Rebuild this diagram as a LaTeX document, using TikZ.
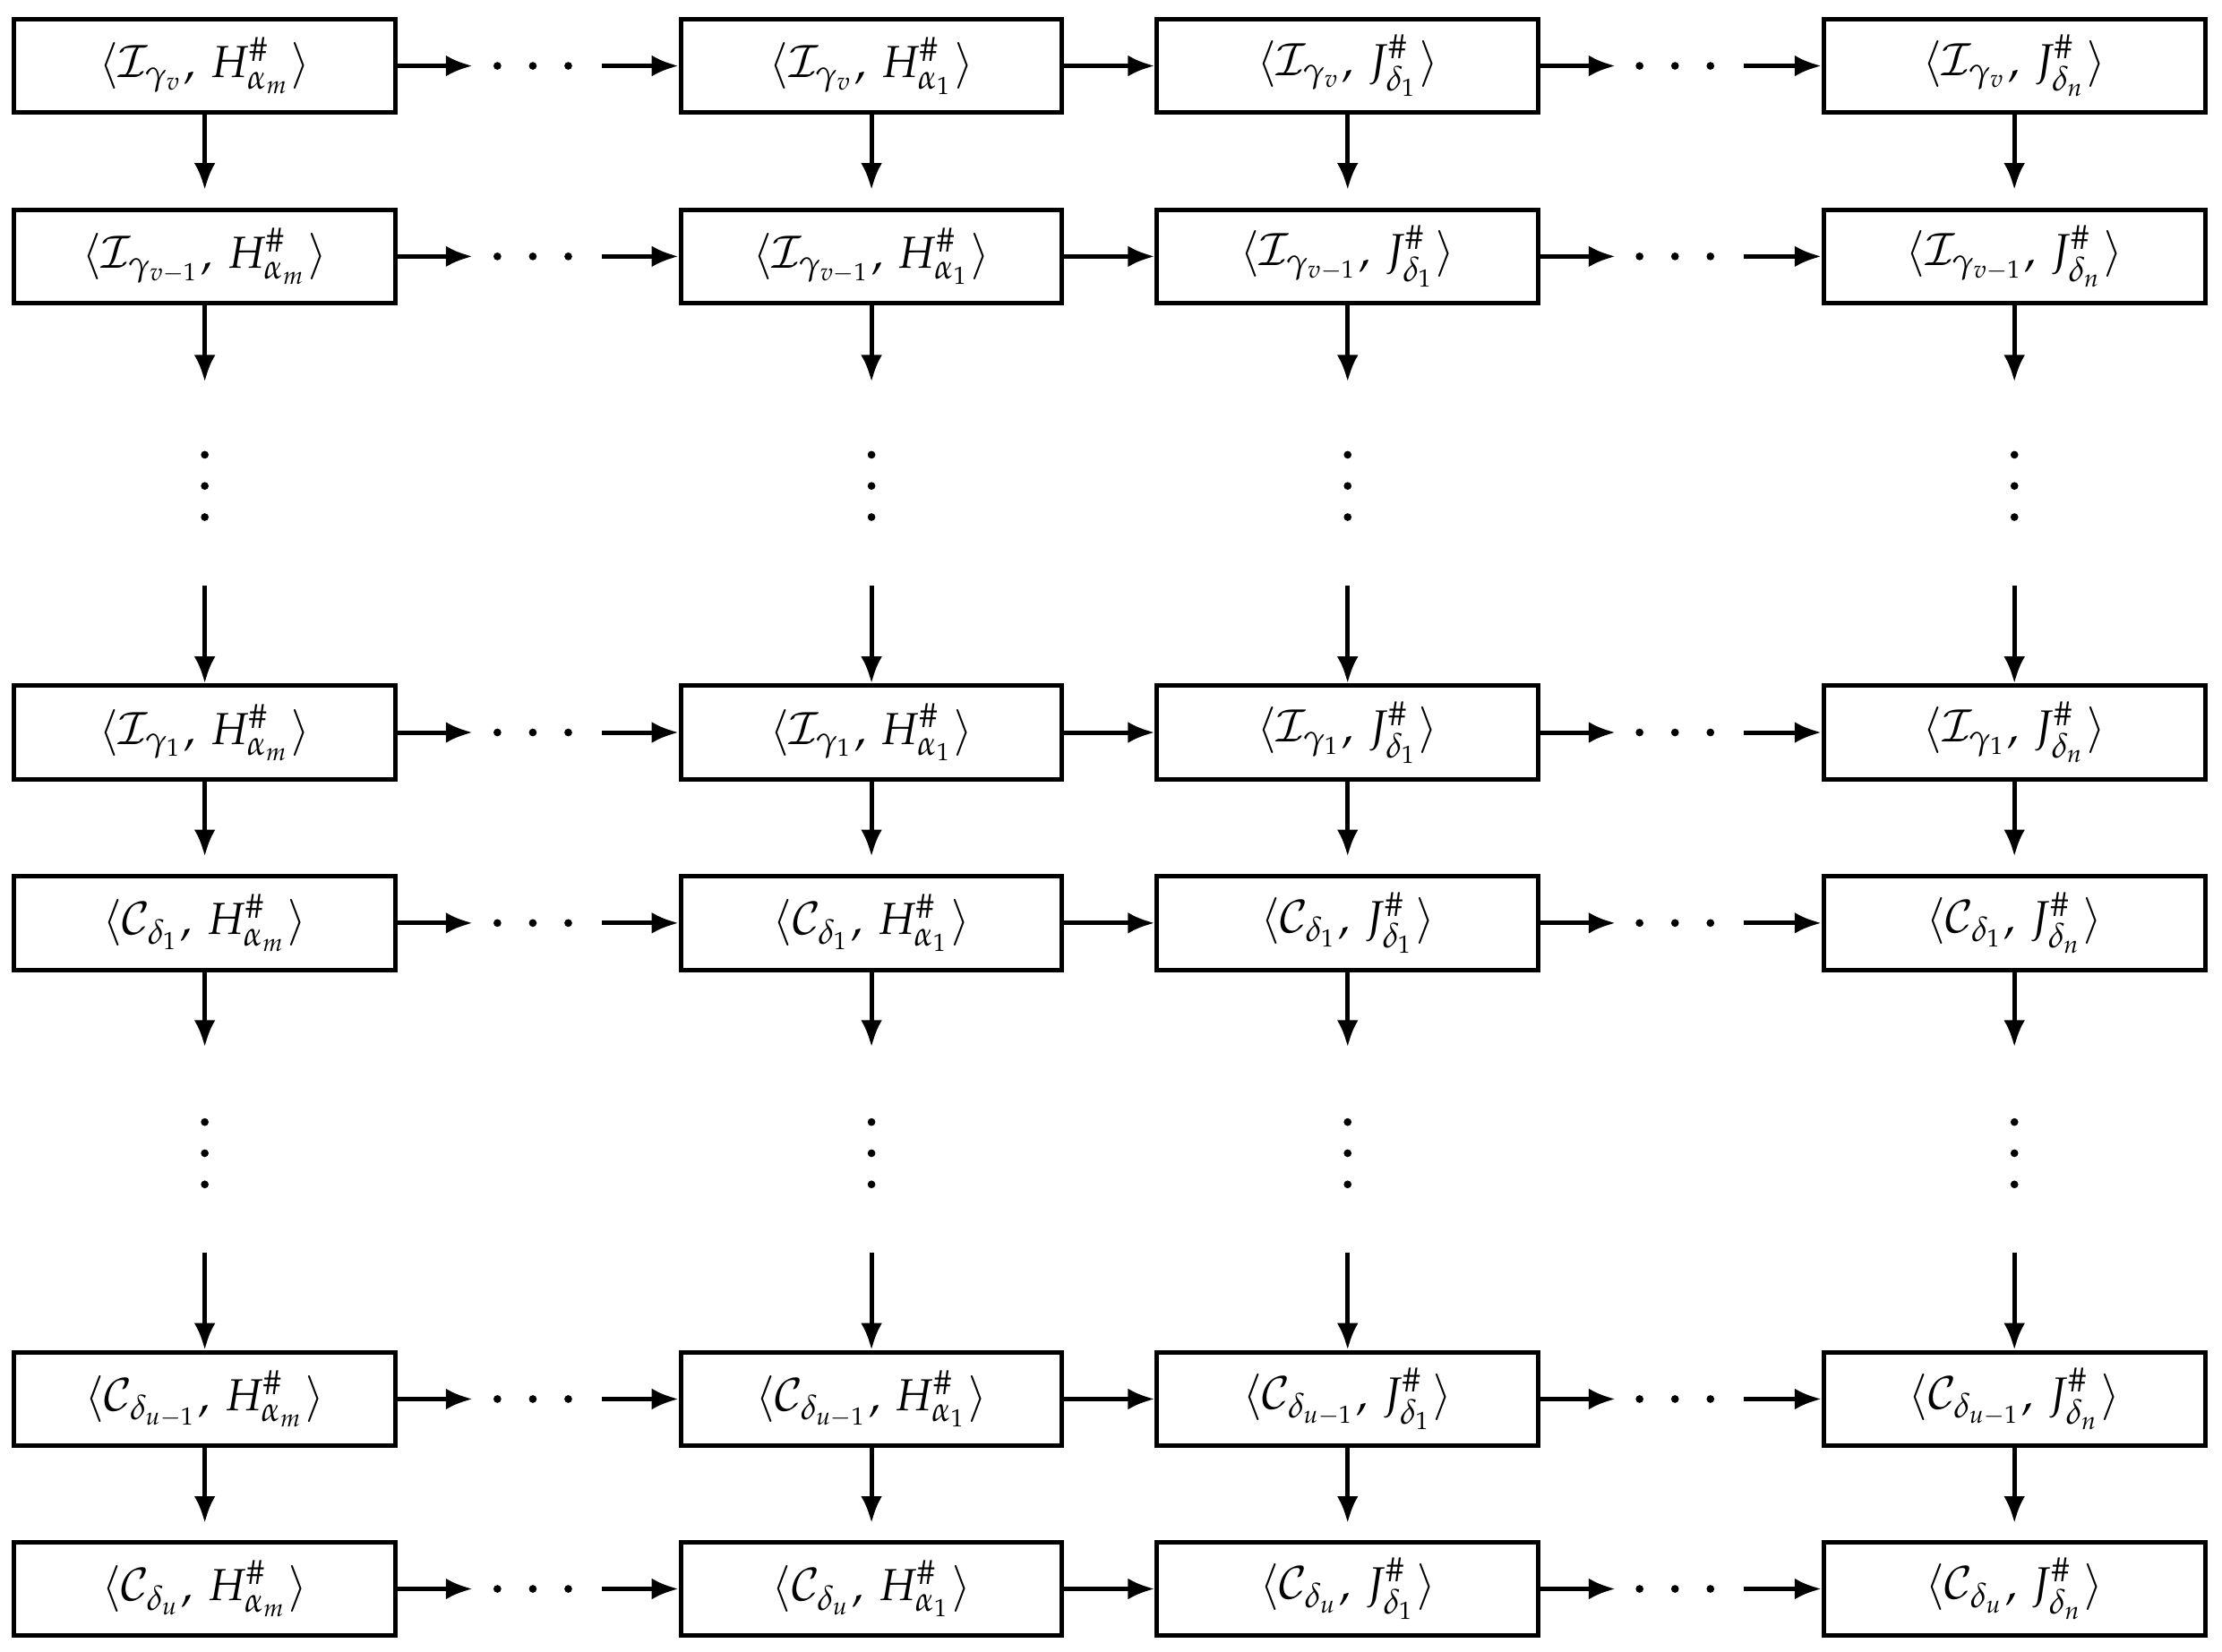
\documentclass[tikz,border=0pt]{standalone}
\usepackage{mathpazo}
\usetikzlibrary{arrows.meta}
\begin{document}
\begin{tikzpicture}[x=0.1mm,y=-0.1mm,
  box/.style={draw,line width=0.9pt,minimum width=26.9mm,minimum height=6.6mm,inner sep=0pt,font=\small},
  arr/.style={line width=0.9pt,-{Latex[length=1.9mm,width=1.5mm]}},
  dot/.style={circle,fill,inner sep=0pt,minimum size=0.55mm}]
\useasboundingbox (0,0) rectangle (1568,1166);
\def\colx{{144.5,615,951,1421.5}}
\def\rowy{{46.5,181,517,651.5,987.5,1121.5}}
\foreach \r/\rl in {0/{\mathcal{I}_{\gamma_v}},1/{\mathcal{I}_{\gamma_{v-1}}},2/{\mathcal{I}_{\gamma_1}},3/{\mathcal{C}_{\delta_1}},4/{\mathcal{C}_{\delta_{u-1}}},5/{\mathcal{C}_{\delta_u}}}
 \foreach \c/\cl in {0/{H^{\#}_{\alpha_m}},1/{H^{\#}_{\alpha_1}},2/{J^{\#}_{\delta_1}},3/{J^{\#}_{\delta_n}}}
  \node[box] (b\r\c) at ({\colx[\c]},{\rowy[\r]}) {$\langle\rl,\,\cl\rangle$};
% horizontal
\foreach \r in {0,...,5}{
  \path (b\r0.east) ++(53,0) coordinate (h\r a);
  \path (b\r1.west) ++(-54,0) coordinate (h\r b);
  \path (b\r2.east) ++(53,0) coordinate (h\r c);
  \path (b\r3.west) ++(-55,0) coordinate (h\r d);
  \draw[arr] (b\r0.east) -- (h\r a);
  \draw[arr] (h\r b) -- (b\r1.west);
  \draw[arr] (b\r1.east) -- (b\r2.west);
  \draw[arr] (b\r2.east) -- (h\r c);
  \draw[arr] (h\r d) -- (b\r3.west);
  \foreach \dx in {351,376,401} \node[dot] at (\dx,{\rowy[\r]}) {};
  \foreach \dx in {1157,1182,1207} \node[dot] at (\dx,{\rowy[\r]}) {};
}
% vertical
\foreach \c in {0,...,3}{
  \foreach \a/\b in {0/1,2/3,4/5}{
    \path (b\a\c.south) ++(0,53) coordinate (v\a\c);
    \draw[arr] (b\a\c.south) -- (v\a\c);
  }
  \path (b1\c.south) ++(0,54) coordinate (u1\c);
  \draw[arr] (b1\c.south) -- (u1\c);
  \path (b2\c.north) ++(0,-69) coordinate (w2\c);
  \draw[arr] (w2\c) -- (b2\c.north);
  \path (b3\c.south) ++(0,53) coordinate (u3\c);
  \draw[arr] (b3\c.south) -- (u3\c);
  \path (b4\c.north) ++(0,-69) coordinate (w4\c);
  \draw[arr] (w4\c) -- (b4\c.north);
  \foreach \dy in {321,343,365} \node[dot] at ({\colx[\c]},\dy) {};
  \foreach \dy in {792,814,836} \node[dot] at ({\colx[\c]},\dy) {};
}
\end{tikzpicture}
\end{document}
